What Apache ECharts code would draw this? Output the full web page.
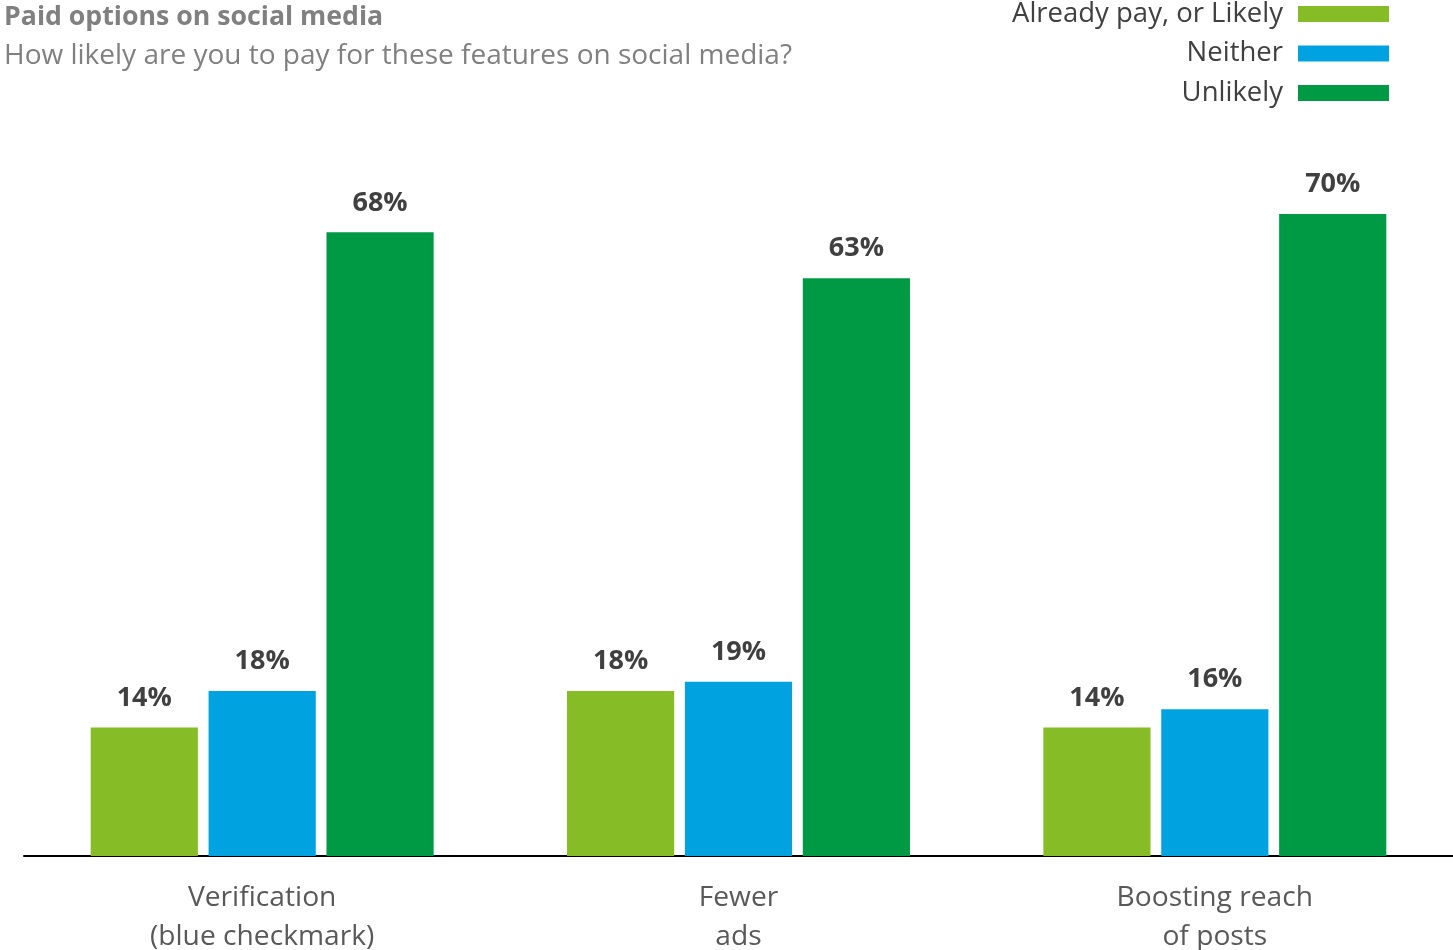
<!DOCTYPE html>
<html><head><meta charset="utf-8">
<script src="https://cdn.jsdelivr.net/npm/echarts@6/dist/echarts.min.js"></script>
<style>html,body{margin:0;padding:0;background:#fff}#c{width:1453px;height:950px}</style>
</head><body><div id="c"></div>
<script>
const categories = ['Verification\n(blue checkmark)', 'Fewer\nads', 'Boosting reach\nof posts'];
const seriesNames = ['Already pay, or Likely', 'Neither', 'Unlikely'];
const likelyValues = [14, 18, 14];
const neitherValues = [18, 19, 16];
const unlikelyValues = [68, 63, 70];
const colors = ['#86BC25', '#00A3E0', '#009A44'];
const allValues = [likelyValues, neitherValues, unlikelyValues];

const chart = echarts.init(document.getElementById('c'));
const font = 'Open Sans';
chart.setOption({
  animation: false,
  title: [
    {text: 'Paid options on social media', left: -1, top: -1,
     textStyle: {fontFamily: font, fontSize: 26.7, fontWeight: 'bold', color: '#808080'}},
    {text: 'How likely are you to pay for these features on social media?', left: -1, top: 37,
     textStyle: {fontFamily: font, fontSize: 28, fontWeight: 'normal', color: '#808080'}}
  ],
  legend: seriesNames.map((n, i) => ({
    data: [n], right: 59, top: -5 + i * 39.5, align: 'right',
    itemWidth: 91, itemHeight: 16, itemGap: 0,
    icon: 'rect', selectedMode: false,
    textStyle: {fontFamily: font, fontSize: 27.5, color: '#404040', padding: [0, 10, 0, 0]}
  })),
  grid: {left: 24, right: 0, top: 214, bottom: 94, outerBoundsMode: 'none'},
  xAxis: {
    type: 'category', data: categories,
    axisLine: {lineStyle: {color: '#000', width: 2}},
    axisTick: {show: false},
    axisLabel: {fontFamily: font, fontSize: 28.2, color: '#595959', lineHeight: 39, margin: 22}
  },
  yAxis: {type: 'value', min: 0, max: 70, show: false, splitLine: {show: false}},
  series: seriesNames.map((n, i) => ({
    name: n, type: 'bar', data: allValues[i],
    itemStyle: {color: colors[i]},
    barGap: '10%', barCategoryGap: '28%',
    label: {show: true, position: 'top', distance: 16, formatter: '{c}%',
      fontFamily: font, fontSize: 27, fontWeight: 'bold', color: '#404040'}
  }))
});
</script></body></html>
